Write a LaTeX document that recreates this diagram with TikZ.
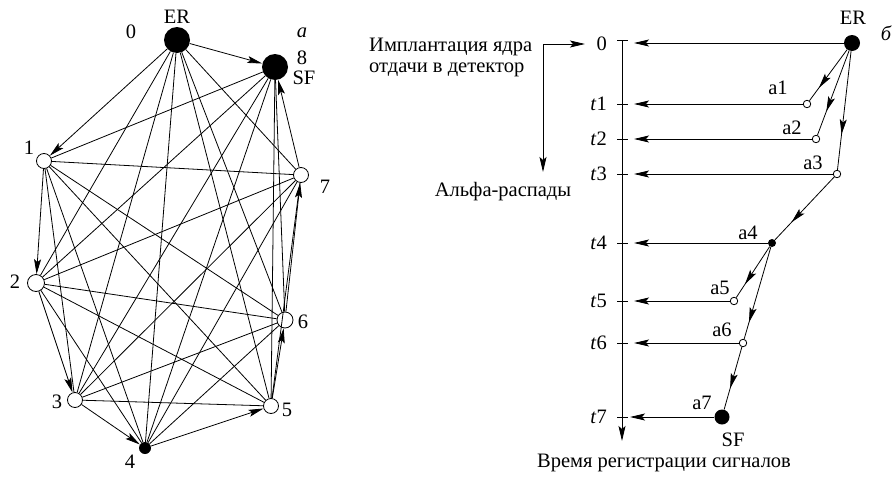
\documentclass[tikz,border=0pt]{standalone}
\usepackage{fontspec}
\setmainfont{Liberation Serif}
\usetikzlibrary{arrows.meta,decorations.markings,calc}
\begin{document}
\begin{tikzpicture}[x=1pt,y=-1pt,
  lbl/.style={font=\fontsize{20.5}{23}\selectfont, inner sep=0pt},
  bigdot/.style={circle, fill=black, minimum size=26pt, inner sep=0pt},
  opn/.style={circle, draw, fill=white, line width=0.8pt, inner sep=0pt, minimum size=15pt},
  smallopn/.style={circle, draw, fill=white, line width=0.8pt, inner sep=0pt, minimum size=7.5pt},
  smallfill/.style={circle, fill=black, inner sep=0pt, minimum size=8pt},
  tip/.style={-{Stealth[length=15pt,width=7pt,inset=3pt]}},
  ln/.style={line width=0.8pt},
  midarrow/.style={postaction={decorate}, decoration={markings, mark=at position #1 with {\arrow{Stealth[length=15pt,width=7pt,inset=3pt]}}}}
]
\useasboundingbox (0,0) rectangle (892,477);

% ---------- left graph ----------
\node[bigdot] (n0) at (177,40) {};
\node[bigdot] (n8) at (275,67) {};
\node[opn] (n1) at (44,161) {};
\node[opn, minimum size=17pt] (n2) at (36,283) {};
\node[opn] (n3) at (75,400) {};
\node[circle, fill=black, inner sep=0pt, minimum size=12pt] (n4) at (145,448) {};
\node[opn] (n5) at (271,406) {};
\node[opn, minimum size=16pt] (n6) at (285,320) {};
\node[opn] (n7) at (301,175) {};

\foreach \i/\j in {0/2,0/3,0/4,0/5,0/6,0/7,
                   1/3,1/4,1/5,1/6,1/7,1/8,
                   2/4,2/5,2/6,2/7,2/8,
                   3/5,3/6,3/7,3/8,
                   4/6,4/7,4/8,
                   5/7,5/8,
                   6/8}
  \draw[ln] (n\i) -- (n\j);
\foreach \i/\j in {0/1,1/2,2/3,3/4,4/5,5/6,6/7,7/8,0/8}
  \draw[ln,tip] (n\i) -- (n\j);

\node[lbl] (lER) at (177,17) {ER};
\node[lbl] (l0) at (131,32) {0};
\node[lbl] (la) at (302,33) {\itshape а};
\node[lbl] (l8) at (302,58) {8};
\node[lbl] (lSF) at (304,78) {SF};
\node[lbl] (l1) at (29,148) {1};
\node[lbl] (l7) at (325,187) {7};
\node[lbl] (l2) at (15,282) {2};
\node[lbl] (l6) at (303,322) {6};
\node[lbl] (l3) at (57,402) {3};
\node[lbl] (l5) at (287,410) {5};
\node[lbl] (l4) at (130,462) {4};

% ---------- right diagram ----------
\coordinate (axtop) at (622,40);
\coordinate (axbot) at (622,441);
\draw[ln,tip] (axtop) -- (axbot);
\coordinate (tipx) at (634,0);

\node[bigdot, minimum size=16pt] (ER) at (852,43) {};
\node[smallopn] (a1) at (807,104) {};
\node[smallopn] (a2) at (816,139) {};
\node[smallopn] (a3) at (837,174) {};
\node[smallfill] (a4) at (772,243) {};
\node[smallopn] (a5) at (734,301) {};
\node[smallopn] (a6) at (743,343) {};
\node[bigdot, minimum size=15pt] (a7) at (722,417) {};

\foreach \y in {40,104,139,174,243,301,343,417}
  \draw[ln] (617,\y) -- (628,\y);
\foreach \y/\t in {44/0,104/{\textit{t}1},139/{\textit{t}2},174/{\textit{t}3},243/{\textit{t}4},301/{\textit{t}5},343/{\textit{t}6},417/{\textit{t}7}}
  \node[lbl, anchor=east] at (607,\y) {\t};

\foreach \n in {ER,a1,a2,a3,a4,a5,a6}
  \draw[ln,tip] (\n) -- (\n -| tipx);
\coordinate (tip7) at (630,417);
\draw[ln,tip] (a7) -- (tip7);

\draw[ln,midarrow=0.75] (ER) -- (a1);
\draw[ln,midarrow=0.72] (ER) -- (a2);
\draw[ln,midarrow=0.7] (ER) -- (a3);
\draw[ln,midarrow=0.72] (a3) -- (a4);
\draw[ln,midarrow=0.74] (a4) -- (a5);
\draw[ln,midarrow=0.82] (a4) -- (a6);
\draw[ln,midarrow=0.66] (a6) -- (a7);

\node[lbl] (tER) at (853,18) {ER};
\node[lbl] (tb) at (886,33) {\itshape б};
\node[lbl] (ta1) at (778,88) {a1};
\node[lbl] (ta2) at (792,128) {a2};
\node[lbl] (ta3) at (813,163) {a3};
\node[lbl] (ta4) at (748,233) {a4};
\node[lbl] (ta5) at (720,288) {a5};
\node[lbl] (ta6) at (722,330) {a6};
\node[lbl] (ta7) at (702,403) {a7};
\node[lbl] (tSF) at (733,440) {SF};

\node[lbl, anchor=west] (imp1) at (369,47) {Имплантация ядра};
\node[lbl, anchor=west] (imp2) at (369,70) {отдачи в детектор};
\node[lbl] (alpha) at (503,192) {Альфа-распады};
\node[lbl] (time) at (664,463) {Время регистрации сигналов};

\coordinate (corner) at (543,44);
\coordinate (cright) at (585,44);
\coordinate (cdown) at (543,172);
\draw[ln,tip] (corner) -- (cright);
\draw[ln,tip] (corner) -- (cdown);
\end{tikzpicture}
\end{document}
